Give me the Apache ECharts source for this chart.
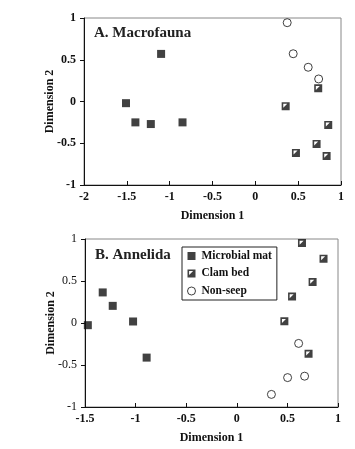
<!DOCTYPE html>
<html><head><meta charset="utf-8">
<script src="https://cdn.jsdelivr.net/npm/echarts@6/dist/echarts.min.js"></script>
<style>html,body{margin:0;padding:0;background:#fff}#c{width:355px;height:449px}</style>
</head><body><div id="c"></div>
<script>
// Panel A. Macrofauna  [Dimension 1, Dimension 2]
var macroMat = [[-1.51,-0.02],[-1.40,-0.25],[-1.22,-0.27],[-0.85,-0.25],[-1.10,0.57]];
var macroClam = [[0.354,-0.057],[0.734,0.158],[0.851,-0.281],[0.715,-0.509],[0.474,-0.617],[0.832,-0.653]];
var macroNon = [[0.372,0.944],[0.442,0.572],[0.617,0.41],[0.739,0.27]];
// Panel B. Annelida
var annMat = [[-1.472,-0.026],[-1.325,0.364],[-1.226,0.204],[-1.025,0.018],[-0.891,-0.412]];
var annClam = [[0.644,0.952],[0.857,0.765],[0.749,0.487],[0.546,0.315],[0.47,0.02],[0.709,-0.367]];
var annNon = [[0.611,-0.243],[0.502,-0.65],[0.67,-0.633],[0.342,-0.85]];

var seriesNames = ['Microbial mat','Clam bed','Non-seep'];
var xTicksA = {min:-2,max:1,interval:0.5};
var xTicksB = {min:-1.5,max:1,interval:0.5};
var yTicks = {min:-1,max:1,interval:0.5};
var titles = ['A. Macrofauna','B. Annelida'];
var axisNames = ['Dimension 1','Dimension 2'];

var FONT = '"Liberation Serif","Times New Roman",serif';
var clamPath = 'path://M0,0L10,0L10,10L0,10Z M2,2L2,7L7,2Z';
var symbols = ['rect', clamPath, 'circle'];

function fmt(v){ return String(v); }

function xAxis(idx, t){
  return {type:'value', gridIndex:idx, min:t.min, max:t.max, interval:t.interval,
    name:axisNames[0], nameLocation:'middle', nameGap:25, nameMoveOverlap:false,
    nameTextStyle:{fontFamily:FONT,fontWeight:'bold',fontSize:12,color:'#111'},
    axisLine:{show:true,onZero:false,lineStyle:{color:'#111',width:1}},
    axisTick:{show:true,inside:true,length:4,lineStyle:{color:'#111'}},
    axisLabel:{fontFamily:FONT,fontWeight:'bold',fontSize:12,color:'#111',margin:6,formatter:fmt},
    splitLine:{show:false}};
}
function yAxis(idx, weight){
  return {type:'value', gridIndex:idx, min:yTicks.min, max:yTicks.max, interval:yTicks.interval,
    name:axisNames[1], nameLocation:'middle', nameGap:28, nameRotate:90, nameMoveOverlap:false,
    nameTextStyle:{fontFamily:FONT,fontWeight:'bold',fontSize:12,color:'#111'},
    axisLine:{show:true,onZero:false,lineStyle:{color:'#111',width:1}},
    axisTick:{show:true,inside:false,length:4,lineStyle:{color:'#111'}},
    axisLabel:{fontFamily:FONT,fontWeight:weight,fontSize:12,color:'#111',margin:8,formatter:fmt},
    splitLine:{show:false}};
}
function mk(name, data, idx){
  var k = seriesNames.indexOf(name);
  var st = k===2 ? {color:'#fff',borderColor:'#111',borderWidth:1} : {color:'#111'};
  return {type:'scatter', name:name, xAxisIndex:idx, yAxisIndex:idx, data:data,
    symbol:symbols[k], symbolSize:8, itemStyle:st, silent:true};
}

var chart = echarts.init(document.getElementById('c'), null, {renderer:'canvas'});
chart.setOption({
  animation:false,
  backgroundColor:'#fff',
  grid:[
    {left:84,top:18,right:14,height:167,show:true,borderColor:'#888',borderWidth:1},
    {left:85,top:239,right:17,height:168,show:true,borderColor:'#888',borderWidth:1}
  ],
  title:[
    {text:titles[0],left:94,top:26,padding:0,textStyle:{fontFamily:FONT,fontWeight:'bold',fontSize:15,color:'#222'}},
    {text:titles[1],left:95,top:248,padding:0,textStyle:{fontFamily:FONT,fontWeight:'bold',fontSize:15,color:'#222'}}
  ],
  legend:{
    data:seriesNames.map(function(n,i){
      return {name:n, icon:symbols[i],
        itemStyle: i===2?{color:'#fff',borderColor:'#111',borderWidth:1}:{color:'#111'}};
    }),
    orient:'vertical', left:182, top:247, padding:[3,5,3,5], itemGap:5.5,
    itemWidth:8, itemHeight:8, borderColor:'#222', borderWidth:1,
    textStyle:{fontFamily:FONT,fontWeight:'bold',fontSize:11.5,color:'#111',padding:[0,0,0,1]},
    selectedMode:false
  },
  xAxis:[xAxis(0,xTicksA), xAxis(1,xTicksB)],
  yAxis:[yAxis(0,'bold'), yAxis(1,'normal')],
  series:[
    mk('Microbial mat',macroMat,0), mk('Clam bed',macroClam,0), mk('Non-seep',macroNon,0),
    mk('Microbial mat',annMat,1), mk('Clam bed',annClam,1), mk('Non-seep',annNon,1)
  ]
});
</script></body></html>
